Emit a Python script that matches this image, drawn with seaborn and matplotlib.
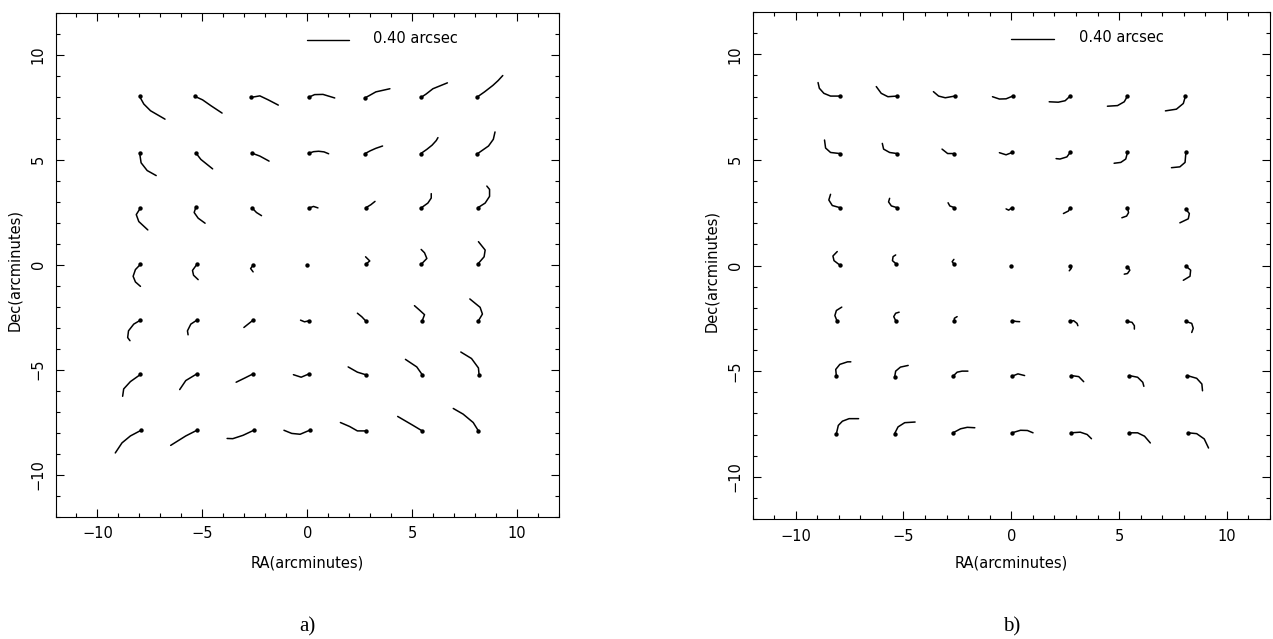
import pandas as pd
import seaborn as sns
import matplotlib.pyplot as plt
from matplotlib.ticker import MultipleLocator

# distortion tracks, panel a) -- one list per grid point, first point is the start dot
ra_a = [
    [-7.99, -7.79, -7.47, -6.78], [-5.34, -4.99, -4.59, -4.06], [-2.66, -2.26, -1.86, -1.38],
    [0.06, 0.35, 0.75, 1.31], [2.74, 2.95, 3.27, 3.94], [5.43, 5.67, 5.99, 6.68],
    [8.08, 8.45, 8.85, 9.10, 9.32],
    [-7.99, -7.92, -7.63, -7.20], [-5.31, -5.07, -4.51], [-2.61, -2.26, -1.82],
    [0.06, 0.30, 0.54, 0.80, 1.02], [2.74, 3.00, 3.27, 3.59], [5.40, 5.70, 5.95, 6.15, 6.23],
    [8.11, 8.64, 8.87, 8.95],
    [-7.95, -8.15, -8.03, -7.60], [-5.31, -5.39, -5.20, -4.87], [-2.63, -2.42, -2.18],
    [0.09, 0.30, 0.51], [2.78, 3.03, 3.23], [5.43, 5.75, 5.91, 5.91],
    [8.12, 8.48, 8.69, 8.69, 8.56],
    [-7.95, -8.19, -8.30, -8.19, -7.95], [-5.26, -5.47, -5.42, -5.20], [-2.58, -2.70, -2.58],
    [0.0], [2.78, 2.98, 2.78], [5.43, 5.70, 5.59, 5.43],
    [8.12, 8.43, 8.48, 8.16],
    [-7.95, -8.27, -8.52, -8.56, -8.45], [-5.26, -5.55, -5.71, -5.68], [-2.58, -2.82, -3.02],
    [0.09, -0.13, -0.32], [2.78, 2.60, 2.39], [5.48, 5.59, 5.35, 5.11],
    [8.16, 8.35, 8.24, 7.75],
    [-7.95, -8.43, -8.75, -8.80], [-5.26, -5.79, -6.08], [-2.58, -2.98, -3.39],
    [0.09, -0.29, -0.66], [2.78, 2.39, 1.95], [5.48, 5.22, 4.68],
    [8.19, 8.16, 7.83, 7.32],
    [-7.92, -8.43, -8.83, -9.15], [-5.26, -5.79, -6.51], [-2.55, -3.06, -3.55, -3.82],
    [0.11, -0.34, -0.74, -1.11], [2.78, 2.39, 2.02, 1.58], [5.48, 5.03, 4.31],
    [8.16, 7.91, 7.43, 6.96],
]
dec_a = [
    [8.02, 7.66, 7.34, 6.94], [8.02, 7.86, 7.58, 7.23], [7.98, 8.05, 7.86, 7.61],
    [7.98, 8.11, 8.12, 7.95], [7.95, 8.06, 8.24, 8.39], [7.98, 8.14, 8.39, 8.67],
    [7.98, 8.24, 8.55, 8.78, 9.02],
    [5.33, 4.86, 4.49, 4.25], [5.33, 5.02, 4.57], [5.31, 5.18, 4.94],
    [5.31, 5.39, 5.41, 5.38, 5.29], [5.29, 5.43, 5.55, 5.66], [5.29, 5.50, 5.70, 5.92, 6.06],
    [5.29, 5.66, 5.98, 6.33],
    [2.71, 2.39, 2.06, 1.66], [2.74, 2.49, 2.22, 1.98], [2.71, 2.49, 2.34],
    [2.71, 2.78, 2.71], [2.71, 2.86, 3.02], [2.71, 2.94, 3.18, 3.39],
    [2.71, 2.94, 3.26, 3.59, 3.75],
    [0.02, -0.23, -0.55, -0.82, -1.03], [0.02, -0.27, -0.50, -0.71], [-0.02, -0.18, -0.34],
    [0.0], [0.02, 0.18, 0.38], [0.02, 0.30, 0.57, 0.73],
    [0.02, 0.38, 0.70, 1.10],
    [-2.64, -2.83, -3.15, -3.47, -3.62], [-2.64, -2.83, -3.15, -3.34], [-2.64, -2.83, -2.99],
    [-2.67, -2.72, -2.64], [-2.67, -2.48, -2.31], [-2.67, -2.38, -2.16, -1.95],
    [-2.67, -2.35, -2.03, -1.63],
    [-5.23, -5.57, -5.92, -6.27], [-5.20, -5.52, -5.95], [-5.20, -5.40, -5.60],
    [-5.20, -5.36, -5.24], [-5.24, -5.12, -4.87], [-5.24, -4.87, -4.51],
    [-5.24, -4.92, -4.47, -4.16],
    [-7.89, -8.16, -8.49, -8.97], [-7.89, -8.16, -8.61], [-7.89, -8.13, -8.29, -8.28],
    [-7.89, -8.08, -8.04, -7.89], [-7.92, -7.92, -7.71, -7.52], [-7.92, -7.65, -7.23],
    [-7.92, -7.52, -7.12, -6.85],
]

# panel b)
ra_b = [
    [-7.95, -8.38, -8.69, -8.90, -8.96], [-5.30, -5.72, -6.03, -6.26], [-2.62, -3.06, -3.37, -3.61],
    [0.07, -0.24, -0.55, -0.87], [2.73, 2.50, 2.18, 1.76], [5.39, 5.24, 4.93, 4.46],
    [8.08, 7.98, 7.66, 7.15],
    [-7.95, -8.38, -8.61, -8.66], [-5.30, -5.64, -5.92, -5.98], [-2.64, -2.95, -3.21],
    [0.04, -0.24, -0.55], [2.73, 2.58, 2.26, 2.08], [5.39, 5.31, 5.08, 4.77],
    [8.10, 8.06, 7.82, 7.43],
    [-7.95, -8.30, -8.46, -8.38], [-5.30, -5.56, -5.69, -5.64], [-2.64, -2.85, -2.93],
    [0.04, -0.12, -0.24], [2.73, 2.65, 2.42], [5.39, 5.44, 5.35, 5.13],
    [8.10, 8.26, 8.21, 7.82],
    [-7.95, -8.22, -8.27, -8.07], [-5.33, -5.51, -5.48, -5.36], [-2.66, -2.74, -2.66],
    [0.0], [2.73, 2.78, 2.69], [5.39, 5.50, 5.39, 5.24],
    [8.10, 8.32, 8.29, 7.98],
    [-8.07, -8.18, -8.11, -7.86], [-5.36, -5.45, -5.36, -5.20], [-2.64, -2.64, -2.51],
    [0.04, 0.23, 0.39], [2.73, 2.89, 3.05, 3.09], [5.39, 5.60, 5.71, 5.71],
    [8.10, 8.37, 8.44, 8.37],
    [-8.11, -8.14, -7.95, -7.59, -7.44], [-5.41, -5.36, -5.14, -4.78], [-2.70, -2.51, -2.28, -2.01],
    [0.04, 0.31, 0.62], [2.78, 3.13, 3.36], [5.47, 5.86, 6.10, 6.15],
    [8.16, 8.60, 8.84, 8.87],
    [-8.11, -8.02, -7.83, -7.52, -7.08], [-5.41, -5.25, -4.94, -4.46], [-2.70, -2.35, -2.04, -1.69],
    [0.04, 0.43, 0.75, 1.01], [2.78, 3.20, 3.52, 3.72], [5.47, 5.86, 6.18, 6.45],
    [8.21, 8.60, 8.95, 9.15],
]
dec_b = [
    [8.02, 8.02, 8.15, 8.39, 8.66], [8.02, 7.99, 8.15, 8.47], [8.02, 7.94, 8.02, 8.23],
    [8.02, 7.89, 7.88, 7.99], [8.02, 7.80, 7.73, 7.75], [8.02, 7.75, 7.57, 7.54],
    [8.02, 7.67, 7.40, 7.32],
    [5.30, 5.35, 5.56, 5.94], [5.30, 5.35, 5.51, 5.78], [5.30, 5.30, 5.51],
    [5.35, 5.24, 5.34], [5.35, 5.14, 5.04, 5.06], [5.35, 5.04, 4.88, 4.84],
    [5.35, 4.88, 4.67, 4.63],
    [2.74, 2.84, 3.10, 3.37], [2.74, 2.82, 3.01, 3.18], [2.74, 2.82, 2.97],
    [2.74, 2.62, 2.68], [2.74, 2.58, 2.46], [2.74, 2.50, 2.34, 2.26],
    [2.66, 2.46, 2.21, 2.02],
    [0.02, 0.23, 0.45, 0.66], [0.07, 0.23, 0.42, 0.50], [0.07, 0.18, 0.29],
    [0.0], [-0.03, -0.14, -0.25], [-0.06, -0.22, -0.38, -0.41],
    [-0.03, -0.22, -0.51, -0.70],
    [-2.65, -2.37, -2.13, -1.97], [-2.61, -2.42, -2.26, -2.21], [-2.65, -2.50, -2.42],
    [-2.61, -2.65, -2.66], [-2.65, -2.61, -2.74, -2.85], [-2.65, -2.69, -2.85, -3.01],
    [-2.65, -2.74, -2.97, -3.17],
    [-5.24, -4.92, -4.68, -4.56, -4.56], [-5.29, -5.00, -4.81, -4.73], [-5.24, -5.05, -5.00, -5.00],
    [-5.24, -5.13, -5.21], [-5.21, -5.26, -5.50], [-5.21, -5.29, -5.53, -5.72],
    [-5.21, -5.34, -5.61, -5.93],
    [-7.96, -7.57, -7.37, -7.25, -7.25], [-7.96, -7.64, -7.44, -7.41], [-7.92, -7.73, -7.66, -7.68],
    [-7.92, -7.80, -7.81, -7.92], [-7.92, -7.89, -8.00, -8.20], [-7.92, -7.92, -8.08, -8.40],
    [-7.92, -7.96, -8.21, -8.64],
]

scale_label = "0.40 arcsec"
scale_len = 2.0  # arcmin on the plot for the 0.40 arcsec bar


def tracks_frame(ra_list, dec_list):
    rows = []
    for k, (xs, ys) in enumerate(zip(ra_list, dec_list)):
        for x, y in zip(xs, ys):
            rows.append((k, x, y))
    return pd.DataFrame(rows, columns=["track", "ra", "dec"])


sns.set_theme(style="ticks")
plt.rcParams["font.family"] = ["DejaVu Sans"]
plt.rcParams["text.color"] = "black"

W, H = 1273, 639
fig = plt.figure(figsize=(W / 100, H / 100), dpi=100)

# axes boxes in pixels: left, top, right, bottom
boxes = [(55.5, 13, 559, 516.5), (752.5, 12, 1270, 519)]
panels = [(ra_a, dec_a, "a)"), (ra_b, dec_b, "b)")]

for (l, t, r, b), (ra, dec, cap) in zip(boxes, panels):
    ax = fig.add_axes([l / W, 1 - b / H, (r - l) / W, (b - t) / H])
    df = tracks_frame(ra, dec)
    sns.lineplot(data=df, x="ra", y="dec", units="track", estimator=None, sort=False,
                 color="black", linewidth=1.1, ax=ax, legend=False)
    starts = df.groupby("track").first().reset_index()
    sns.scatterplot(data=starts, x="ra", y="dec", color="black", s=10, linewidth=0,
                    ax=ax, legend=False)

    ax.set_xlim(-12, 12)
    ax.set_ylim(-12, 12)
    ax.xaxis.set_major_locator(MultipleLocator(5))
    ax.yaxis.set_major_locator(MultipleLocator(5))
    ax.xaxis.set_minor_locator(MultipleLocator(1))
    ax.yaxis.set_minor_locator(MultipleLocator(1))
    ax.tick_params(which="both", direction="in", top=True, right=True, colors="black",
                   labelcolor="black", width=0.8, labelsize=10.5)
    ax.tick_params(which="major", length=6, pad=7)
    ax.tick_params(which="minor", length=3)
    ax.tick_params(axis="y", labelrotation=90)
    for lbl in ax.get_yticklabels():
        lbl.set_va("center")
    for sp in ax.spines.values():
        sp.set_visible(True)
        sp.set_linewidth(0.8)
        sp.set_color("black")
    ax.set_xlabel("")
    ax.set_ylabel("")

    # scale bar
    ax.plot([0, scale_len], [10.7, 10.7], color="black", linewidth=1.0)
    ax.text(3.15, 10.78, scale_label, ha="left", va="center", fontsize=10.5, color="black")

    cx = (l + r) / 2
    fig.text(cx / W, 1 - 563 / H, "RA(arcminutes)", ha="center", va="center", fontsize=10.5)
    fig.text((l - 41) / W, 1 - ((t + b) / 2 + 5) / H, "Dec(arcminutes)", ha="center",
             va="center", rotation=90, fontsize=10.5)
    fig.text(cx / W, 1 - 627 / H, cap, ha="center", va="center", fontsize=15,
             family=["Liberation Serif"])

fig.savefig("out.png", dpi=100)
